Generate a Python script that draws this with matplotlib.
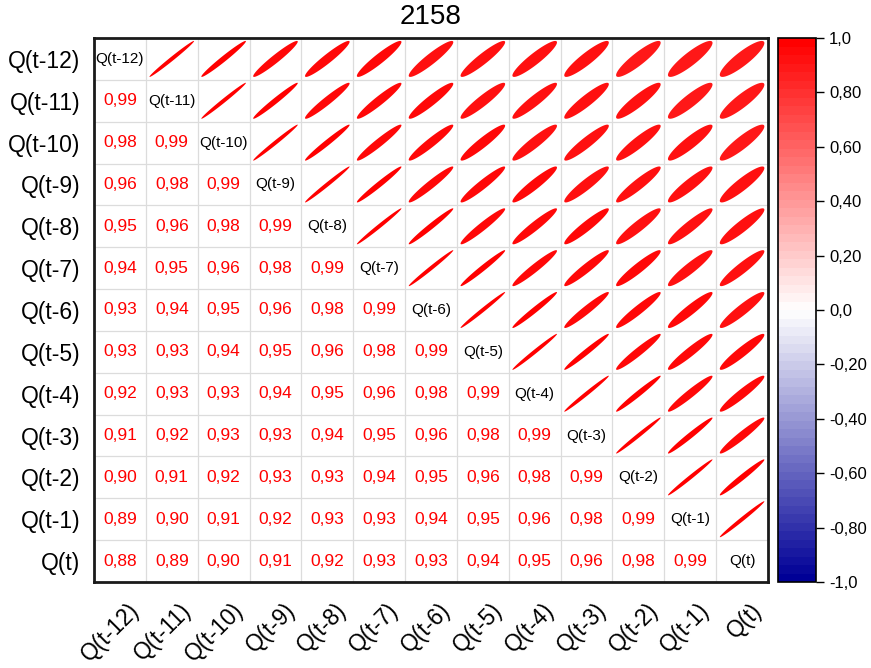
import numpy as np
import matplotlib
matplotlib.use("Agg")
import matplotlib.pyplot as plt
from matplotlib.colors import LinearSegmentedColormap, Normalize
from matplotlib.patches import Polygon
from matplotlib.transforms import ScaledTranslation
from matplotlib.colorbar import ColorbarBase

plt.rcParams['font.family'] = ['Liberation Sans', 'DejaVu Sans']

title = "2158"
labels = ["Q(t-12)", "Q(t-11)", "Q(t-10)", "Q(t-9)", "Q(t-8)", "Q(t-7)",
          "Q(t-6)", "Q(t-5)", "Q(t-4)", "Q(t-3)", "Q(t-2)", "Q(t-1)", "Q(t)"]

# lower triangle of the correlation matrix, one row per variable
lower = [
    [],
    [0.99],
    [0.98, 0.99],
    [0.96, 0.98, 0.99],
    [0.95, 0.96, 0.98, 0.99],
    [0.94, 0.95, 0.96, 0.98, 0.99],
    [0.93, 0.94, 0.95, 0.96, 0.98, 0.99],
    [0.93, 0.93, 0.94, 0.95, 0.96, 0.98, 0.99],
    [0.92, 0.93, 0.93, 0.94, 0.95, 0.96, 0.98, 0.99],
    [0.91, 0.92, 0.93, 0.93, 0.94, 0.95, 0.96, 0.98, 0.99],
    [0.90, 0.91, 0.92, 0.93, 0.93, 0.94, 0.95, 0.96, 0.98, 0.99],
    [0.89, 0.90, 0.91, 0.92, 0.93, 0.93, 0.94, 0.95, 0.96, 0.98, 0.99],
    [0.88, 0.89, 0.90, 0.91, 0.92, 0.93, 0.93, 0.94, 0.95, 0.96, 0.98, 0.99],
]

cbar_ticks = [-1.0, -0.8, -0.6, -0.4, -0.2, 0.0, 0.2, 0.4, 0.6, 0.8, 1.0]
cbar_labels = ["-1,0", "-0,80", "-0,60", "-0,40", "-0,20", "0,0",
               "0,20", "0,40", "0,60", "0,80", "1,0"]

n = len(labels)
corr = np.eye(n)
for i, row in enumerate(lower):
    for j, v in enumerate(row):
        corr[i, j] = v
        corr[j, i] = v

cmap = LinearSegmentedColormap.from_list("bwr_corr", ["#000096", "#ffffff", "#ff0000"], N=64)
norm = Normalize(-1, 1)

fig = plt.figure(figsize=(8.71, 6.68), dpi=100)
ax = fig.add_axes([94 / 871, 1 - 582 / 668, 674 / 871, 544 / 668])
cax = fig.add_axes([778 / 871, 1 - 582 / 668, 38 / 871, 544 / 668])

ax.set_xlim(0, n)
ax.set_ylim(n, 0)

# light cell grid
for k in range(1, n):
    ax.axhline(k, color="#dcdcdc", lw=0.9, zorder=0)
    ax.axvline(k, color="#dcdcdc", lw=0.9, zorder=0)

t = np.linspace(0, 2 * np.pi, 120)
size = 0.43
for i in range(n):
    for j in range(n):
        r = corr[i, j]
        cx, cy = j + 0.5, i + 0.5
        if i == j:
            ax.text(cx, cy, labels[i], ha="center", va="center", fontsize=11, color="black")
        elif i > j:
            txt = f"{r:.2f}".replace(".", ",")
            ax.text(cx, cy, txt, ha="center", va="center", fontsize=12.5, color="red")
        else:
            a = size * np.sqrt(1 + r)
            b = size * np.sqrt(1 - r)
            u = a * np.cos(t)
            v = b * np.sin(t)
            x = cx + (u - v) / np.sqrt(2)
            y = cy - (u + v) / np.sqrt(2)
            ax.add_patch(Polygon(np.column_stack([x, y]), closed=True,
                                 facecolor=cmap(norm(r)), edgecolor="none"))

ax.set_xticks(np.arange(n) + 0.5)
ax.set_yticks(np.arange(n) + 0.5)
ax.set_yticklabels(labels, fontsize=16.5)
ax.set_xticklabels(labels, fontsize=16.5, rotation=45, ha="right", va="center",
                   rotation_mode="anchor")
ax.tick_params(length=0)
ax.tick_params(axis="y", pad=10)
ax.tick_params(axis="x", pad=18)
shift = ScaledTranslation(16 / 100, 0, fig.dpi_scale_trans)
for lab in ax.get_xticklabels():
    lab.set_transform(lab.get_transform() + shift)

for s in ax.spines.values():
    s.set_linewidth(2)
    s.set_color("#1a1a1a")

ax.set_title(title, fontsize=20, pad=10)

cb = ColorbarBase(cax, cmap=cmap, norm=norm, orientation="vertical")
cb.set_ticks(cbar_ticks)
cb.set_ticklabels(cbar_labels)
cax.tick_params(labelsize=12, length=6, width=1, direction="out")
cb.outline.set_linewidth(1.2)

fig.savefig("out.png", dpi=100)
